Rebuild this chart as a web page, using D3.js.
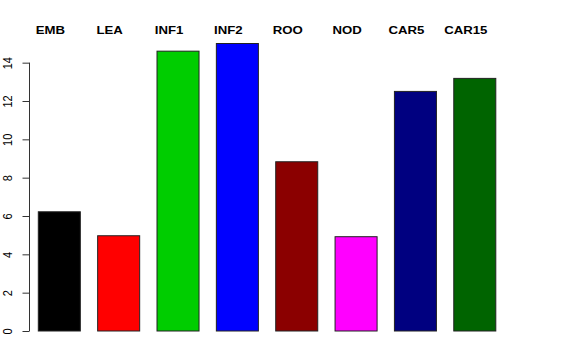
<!DOCTYPE html>
<html>
<head>
<meta charset="utf-8">
<script src="https://cdn.jsdelivr.net/npm/d3@7"></script>
<style>
  html, body { margin: 0; padding: 0; background: #fff; }
  svg { display: block; }
  text { font-family: "Liberation Sans", Arial, Helvetica, sans-serif; }
</style>
</head>
<body>
<svg id="chart" width="576" height="360"></svg>
<script>
const categories = ["EMB", "LEA", "INF1", "INF2", "ROO", "NOD", "CAR5", "CAR15"];
const values = [6.22, 4.97, 14.6, 15.0, 8.83, 4.92, 12.5, 13.18];
const colors = ["#000000", "#FF0000", "#00CD00", "#0000FF", "#8B0000", "#FF00FF", "#000080", "#006400"];
const yTicks = [0, 2, 4, 6, 8, 10, 12, 14];

const svg = d3.select("#chart");

const x = d3.scaleBand()
  .domain(categories)
  .range([38.3, 495.8])
  .paddingInner(0.292)
  .paddingOuter(0);

const y = d3.scaleLinear()
  .domain([0, 15.6])
  .range([331, 32]);

// Bars
svg.append("g")
  .selectAll("rect")
  .data(categories)
  .join("rect")
  .attr("x", d => x(d))
  .attr("y", (d, i) => y(values[i]))
  .attr("width", x.bandwidth())
  .attr("height", (d, i) => y(0) - y(values[i]))
  .attr("fill", (d, i) => colors[i])
  .attr("stroke", "#222")
  .attr("stroke-width", 1);

// Y axis
const axisG = svg.append("g").attr("transform", "translate(29.5,0)");
axisG.call(d3.axisLeft(y).tickValues(yTicks).tickSize(7).tickSizeOuter(0).tickFormat(d3.format("d")));
axisG.select(".domain")
  .attr("d", `M0,${y(yTicks[0])}V${y(yTicks[yTicks.length - 1])}`)
  .attr("stroke", "#333");
axisG.selectAll(".tick line").attr("stroke", "#333");
axisG.selectAll(".tick text")
  .attr("x", null).attr("dy", null)
  .attr("text-anchor", "middle")
  .attr("font-size", 11)
  .attr("fill", "#000")
  .attr("transform", "translate(-18,0) scale(1.2,1) rotate(-90)");

// Top labels
svg.append("g")
  .selectAll("text")
  .data(categories)
  .join("text")
  .attr("transform", d => `translate(${x(d) + x.bandwidth() / 2 - 9},33.5) scale(1.2,1)`)
  .attr("text-anchor", "middle")
  .attr("font-size", 11)
  .attr("font-weight", "bold")
  .attr("fill", "#000")
  .text(d => d);
</script>
</body>
</html>
